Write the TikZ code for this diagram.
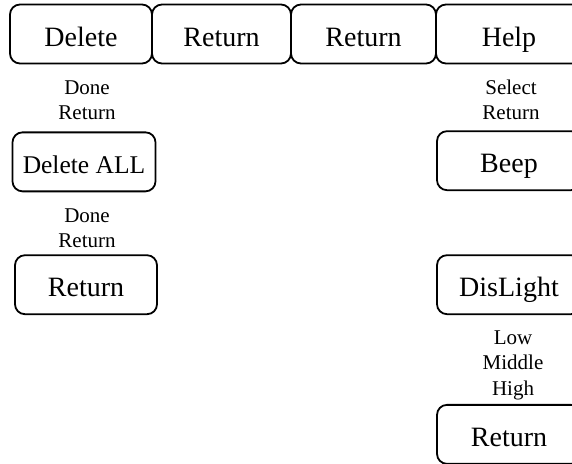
\documentclass[tikz,border=0pt]{standalone}
\usepackage{fontspec}
\setmainfont{Liberation Serif}
\usetikzlibrary{positioning}
\tikzset{
  box/.style={draw,rounded corners=10pt,line width=1.8pt,outer sep=0pt,minimum height=59pt,inner sep=2pt,text height=24pt,text depth=0pt,font=\fontsize{28}{32}\selectfont},
  lbl/.style={align=center,inner sep=0pt,font=\fontsize{21}{25.5}\selectfont},
}

\begin{document}
\begin{tikzpicture}
\useasboundingbox (0,0) rectangle (572pt,-463pt);
% top menu row
\node[box, minimum width=142pt] (del) at (81pt,-34pt) {Delete};
\node[box, minimum width=139pt, right=0pt of del] (ret1) {Return};
\node[box, minimum width=145pt, right=0pt of ret1] (ret2) {Return};
\node[box, minimum width=146pt, right=0pt of ret2] (help) {Help};
% left column
\node[lbl, below=17pt of del, xshift=6pt] (dellbl) {Done\\Return};
\node[box, minimum width=143pt, below=12pt of dellbl, xshift=-3pt, font=\fontsize{25.5}{30}\selectfont] (delall) {Delete ALL};
\node[lbl, below=17pt of delall, xshift=3pt] (delalllbl) {Done\\Return};
\node[box, minimum width=142pt, below=7pt of delalllbl, xshift=-1pt] (ret3) {Return};
% right column
\node[lbl, below=16pt of help, xshift=2pt] (helplbl) {Select\\Return};
\node[box, minimum width=144pt, below=11pt of helplbl, xshift=-2pt] (beep) {Beep};
\node[box, minimum width=144pt, below=65pt of beep] (light) {DisLight};
\node[lbl, below=16pt of light, xshift=4pt] (lightlbl) {Low\\Middle\\High};
\node[box, minimum width=144pt, below=5pt of lightlbl, xshift=-4pt] (ret4) {Return};
\end{tikzpicture}
\end{document}
